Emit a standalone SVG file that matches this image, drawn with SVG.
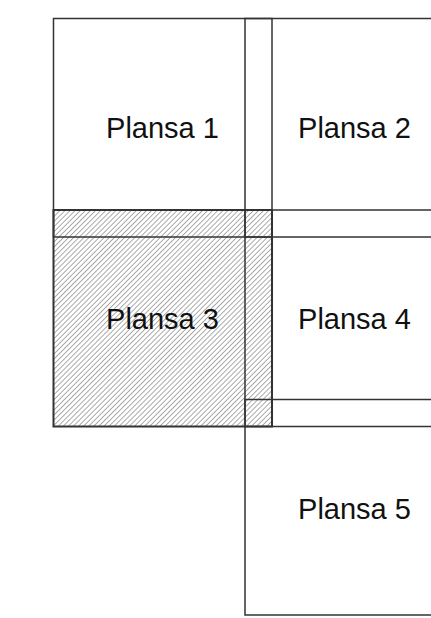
<svg xmlns="http://www.w3.org/2000/svg" width="431" height="618" viewBox="0 0 431 618">
<style>
.page{fill:none;stroke:#333;stroke-width:1.5}
.sel{fill:url(#hatch);stroke:#333;stroke-width:2}
.lbl{font-family:"Liberation Sans",Arial,sans-serif;font-size:29px;fill:#111;text-anchor:middle}
</style>
<defs>
<pattern id="hatch" patternUnits="userSpaceOnUse" width="3.6" height="3.6" patternTransform="rotate(45)">
<rect width="3.6" height="3.6" fill="#fff"/>
<line x1="0" y1="0" x2="0" y2="3.6" stroke="#888" stroke-width="1.4"/>
</pattern>
</defs>
<rect width="431" height="618" fill="#fff"/>
<g id="plansa3">
<rect class="sel" x="53.5" y="210" width="218.5" height="216.5"/>
<text class="lbl" x="162.5" y="328.5">Plansa 3</text>
</g>
<g id="plansa1">
<rect class="page" x="53.5" y="18.5" width="218.5" height="218.5"/>
<text class="lbl" x="162.5" y="137.5">Plansa 1</text>
</g>
<g id="plansa2">
<rect class="page" x="245" y="18.5" width="219" height="218.5"/>
<text class="lbl" x="354.5" y="137.5">Plansa 2</text>
</g>
<g id="plansa4">
<rect class="page" x="245" y="210" width="219" height="216.5"/>
<text class="lbl" x="354.5" y="328.5">Plansa 4</text>
</g>
<g id="plansa5">
<rect class="page" x="245" y="399.5" width="219" height="215.5"/>
<text class="lbl" x="354.5" y="518.5">Plansa 5</text>
</g>
<g id="connectors"></g>
</svg>
